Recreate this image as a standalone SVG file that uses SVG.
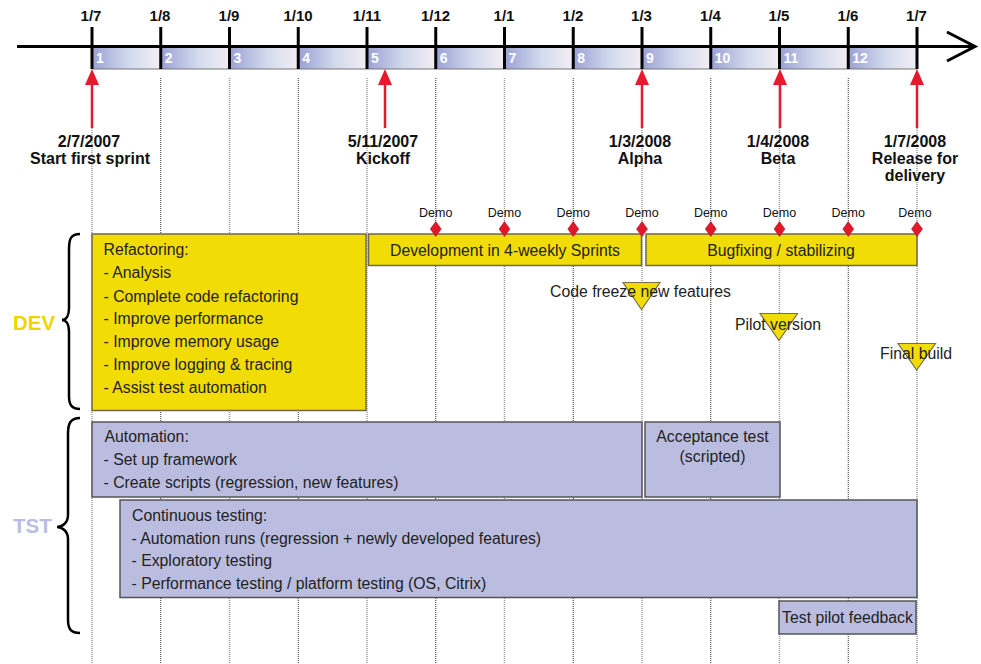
<svg xmlns="http://www.w3.org/2000/svg" width="981" height="664" viewBox="0 0 981 664">
<style>
.lbl{font-family:"Liberation Sans",Arial,sans-serif;font-weight:bold;font-size:15px;fill:#111;text-anchor:middle}
.ms{font-family:"Liberation Sans",Arial,sans-serif;font-weight:bold;font-size:16px;fill:#111;text-anchor:middle}
.num{font-family:"Liberation Sans",Arial,sans-serif;font-weight:bold;font-size:14px;fill:#fff}
.t{font-family:"Liberation Sans",Arial,sans-serif;font-size:15.8px;fill:#222}
.tc{font-family:"Liberation Sans",Arial,sans-serif;font-size:15.8px;fill:#222;text-anchor:middle}
.demo{font-family:"Liberation Sans",Arial,sans-serif;font-size:12.5px;fill:#111;text-anchor:middle}
.gA{stroke:#999;stroke-width:1.5;stroke-dasharray:1 1;fill:none}
.gB{stroke:#333;stroke-width:1;stroke-dasharray:1 1;fill:none}
.yel{fill:#f2dc06;stroke:#6e6a48;stroke-width:1.5}
.lav{fill:#bbbde0;stroke:#555;stroke-width:1.5}
.tick{stroke:#000;stroke-width:3}
.red{stroke:#e8192c;stroke-width:2.5}
.dia{fill:#e0182a;stroke:#a01020;stroke-width:0.5}
.tri{fill:#f2dc06;stroke:#77704a;stroke-width:1.2}
.brace{fill:none;stroke:#000;stroke-width:2.5}
</style>
<defs>
<linearGradient id="seg" x1="0" y1="0" x2="1" y2="0">
<stop offset="0" stop-color="#9aa1d5"/>
<stop offset="0.55" stop-color="#d3dbee"/>
<stop offset="1" stop-color="#f3edf3"/>
</linearGradient>
<path id="rarrow" d="M0,0 L-7,16 L7,16 Z" fill="#e8192c"/>
<path id="diam" d="M0,-7.5 L5.5,0 L0,7.5 L-5.5,0 Z"/>
</defs>
<rect width="981" height="664" fill="#fff"/>

<g id="grid">
<line class="gA" x1="92" y1="72" x2="92" y2="664"/>
<line class="gB" x1="160.75" y1="78" x2="160.75" y2="664"/>
<line class="gA" x1="229.5" y1="78" x2="229.5" y2="664"/>
<line class="gB" x1="298.25" y1="78" x2="298.25" y2="664"/>
<line class="gA" x1="367" y1="78" x2="367" y2="664"/>
<line class="gB" x1="435.75" y1="78" x2="435.75" y2="664"/>
<line class="gA" x1="504.5" y1="78" x2="504.5" y2="664"/>
<line class="gB" x1="573.25" y1="78" x2="573.25" y2="664"/>
<line class="gA" x1="642" y1="78" x2="642" y2="664"/>
<line class="gB" x1="710.75" y1="78" x2="710.75" y2="664"/>
<line class="gA" x1="779.5" y1="78" x2="779.5" y2="664"/>
<line class="gB" x1="848.25" y1="78" x2="848.25" y2="664"/>
<line class="gA" x1="917" y1="78" x2="917" y2="664"/>
</g>

<g id="timeline">
<rect x="92" y="47" width="68.75" height="22" fill="url(#seg)"/>
<rect x="160.75" y="47" width="68.75" height="22" fill="url(#seg)"/>
<rect x="229.5" y="47" width="68.75" height="22" fill="url(#seg)"/>
<rect x="298.25" y="47" width="68.75" height="22" fill="url(#seg)"/>
<rect x="367" y="47" width="68.75" height="22" fill="url(#seg)"/>
<rect x="435.75" y="47" width="68.75" height="22" fill="url(#seg)"/>
<rect x="504.5" y="47" width="68.75" height="22" fill="url(#seg)"/>
<rect x="573.25" y="47" width="68.75" height="22" fill="url(#seg)"/>
<rect x="642" y="47" width="68.75" height="22" fill="url(#seg)"/>
<rect x="710.75" y="47" width="68.75" height="22" fill="url(#seg)"/>
<rect x="779.5" y="47" width="68.75" height="22" fill="url(#seg)"/>
<rect x="848.25" y="47" width="68.75" height="22" fill="url(#seg)"/>
<line x1="92" y1="69" x2="917" y2="69" stroke="#777" stroke-width="1"/>
<line x1="17" y1="46.5" x2="974" y2="46.5" stroke="#000" stroke-width="3"/>
<polyline points="947,32 975,46.5 947,61" fill="none" stroke="#000" stroke-width="3"/>
<g class="tick">
<line x1="92" y1="27" x2="92" y2="69"/>
<line x1="160.75" y1="27" x2="160.75" y2="69"/>
<line x1="229.5" y1="27" x2="229.5" y2="69"/>
<line x1="298.25" y1="27" x2="298.25" y2="69"/>
<line x1="367" y1="27" x2="367" y2="69"/>
<line x1="435.75" y1="27" x2="435.75" y2="69"/>
<line x1="504.5" y1="27" x2="504.5" y2="69"/>
<line x1="573.25" y1="27" x2="573.25" y2="69"/>
<line x1="642" y1="27" x2="642" y2="69"/>
<line x1="710.75" y1="27" x2="710.75" y2="69"/>
<line x1="779.5" y1="27" x2="779.5" y2="69"/>
<line x1="848.25" y1="27" x2="848.25" y2="69"/>
<line x1="917" y1="27" x2="917" y2="69"/>
</g>
<text class="lbl" x="91" y="21">1/7</text>
<text class="lbl" x="160" y="21">1/8</text>
<text class="lbl" x="229" y="21">1/9</text>
<text class="lbl" x="298" y="21">1/10</text>
<text class="lbl" x="367" y="21">1/11</text>
<text class="lbl" x="435.5" y="21">1/12</text>
<text class="lbl" x="504" y="21">1/1</text>
<text class="lbl" x="573" y="21">1/2</text>
<text class="lbl" x="641.5" y="21">1/3</text>
<text class="lbl" x="710.5" y="21">1/4</text>
<text class="lbl" x="779" y="21">1/5</text>
<text class="lbl" x="848" y="21">1/6</text>
<text class="lbl" x="916.5" y="21">1/7</text>
<text class="num" x="96" y="63">1</text>
<text class="num" x="164.75" y="63">2</text>
<text class="num" x="233.5" y="63">3</text>
<text class="num" x="302.25" y="63">4</text>
<text class="num" x="371" y="63">5</text>
<text class="num" x="439.75" y="63">6</text>
<text class="num" x="508.5" y="63">7</text>
<text class="num" x="577.25" y="63">8</text>
<text class="num" x="646" y="63">9</text>
<text class="num" x="714.75" y="63">10</text>
<text class="num" x="783.5" y="63">11</text>
<text class="num" x="852.25" y="63">12</text>
</g>

<g id="milestones">
<use href="#rarrow" x="92" y="69"/><line class="red" x1="92" y1="84" x2="92" y2="128"/>
<use href="#rarrow" x="385" y="69"/><line class="red" x1="385" y1="84" x2="385" y2="128"/>
<use href="#rarrow" x="642" y="69"/><line class="red" x1="642" y1="84" x2="642" y2="128"/>
<use href="#rarrow" x="780" y="69"/><line class="red" x1="780" y1="84" x2="780" y2="128"/>
<use href="#rarrow" x="917" y="69"/><line class="red" x1="917" y1="84" x2="917" y2="128"/>
<text class="ms" x="89" y="147">2/7/2007</text>
<text class="ms" x="90" y="164">Start first sprint</text>
<text class="ms" x="383" y="147">5/11/2007</text>
<text class="ms" x="383" y="164">Kickoff</text>
<text class="ms" x="640" y="147">1/3/2008</text>
<text class="ms" x="640" y="164">Alpha</text>
<text class="ms" x="778" y="147">1/4/2008</text>
<text class="ms" x="778" y="164">Beta</text>
<text class="ms" x="915" y="147">1/7/2008</text>
<text class="ms" x="915" y="164">Release for</text>
<text class="ms" x="915" y="181">delivery</text>
</g>

<g id="dev-brace">
<path class="brace" d="M80,234 C70,234 69,240 69,250 L69,308 C69,316 66,320 62,320 C66,320 69,324 69,332 L69,396 C69,404 71,409 80,409"/>
<text x="13" y="330" font-family="Liberation Sans, Arial, sans-serif" font-weight="bold" font-size="20.5" fill="#f0d400">DEV</text>
</g>
<g id="tst-brace">
<path class="brace" d="M80,418 C70,418 68,424 68,434 L68,515 C68,523 62,527 57,527 C62,527 68,531 68,539 L68,620 C68,629 71,633 80,633"/>
<text x="13" y="533" font-family="Liberation Sans, Arial, sans-serif" font-weight="bold" font-size="20.5" fill="#b9bde1">TST</text>
</g>

<g id="refactoring">
<rect class="yel" x="92" y="234" width="274" height="176.5"/>
<text class="t" x="103.5" y="255">Refactoring:</text>
<text class="t" x="103.5" y="278">- Analysis</text>
<text class="t" x="103.5" y="301.5">- Complete code refactoring</text>
<text class="t" x="103.5" y="324">- Improve performance</text>
<text class="t" x="103.5" y="347">- Improve memory usage</text>
<text class="t" x="103.5" y="370">- Improve logging &amp; tracing</text>
<text class="t" x="103.5" y="393">- Assist test automation</text>
</g>

<g id="development">
<rect class="yel" x="368.5" y="234" width="273" height="31.5"/>
<text class="tc" x="505" y="255.5">Development in 4-weekly Sprints</text>
</g>
<g id="bugfixing">
<rect class="yel" x="646" y="234" width="271" height="31.5"/>
<text class="tc" x="781" y="255.5">Bugfixing / stabilizing</text>
</g>

<g id="demos">
<use href="#diam" class="dia" x="435.75" y="229"/>
<use href="#diam" class="dia" x="504.5" y="229"/>
<use href="#diam" class="dia" x="573.25" y="229"/>
<use href="#diam" class="dia" x="642" y="229"/>
<use href="#diam" class="dia" x="710.75" y="229"/>
<use href="#diam" class="dia" x="779.5" y="229"/>
<use href="#diam" class="dia" x="848.25" y="229"/>
<use href="#diam" class="dia" x="917" y="229"/>
<text class="demo" x="435.75" y="217">Demo</text>
<text class="demo" x="504.5" y="217">Demo</text>
<text class="demo" x="573.25" y="217">Demo</text>
<text class="demo" x="642" y="217">Demo</text>
<text class="demo" x="710.75" y="217">Demo</text>
<text class="demo" x="779.5" y="217">Demo</text>
<text class="demo" x="848.25" y="217">Demo</text>
<text class="demo" x="915" y="217">Demo</text>
</g>

<g id="code-freeze">
<path class="tri" d="M623,282.5 L660,282.5 L641.5,309.5 Z"/>
<text class="t" x="550" y="296.5">Code freeze new features</text>
</g>
<g id="pilot-version">
<path class="tri" d="M760,313.5 L797.5,313.5 L779,340.5 Z"/>
<text class="t" x="735" y="330">Pilot version</text>
</g>
<g id="final-build">
<path class="tri" d="M898,343.5 L935.5,343.5 L916.7,370 Z"/>
<text class="t" x="880" y="359">Final build</text>
</g>

<g id="automation">
<rect class="lav" x="92" y="422" width="550" height="75"/>
<text class="t" x="104.5" y="442">Automation:</text>
<text class="t" x="103.5" y="465">- Set up framework</text>
<text class="t" x="103.5" y="488">- Create scripts (regression, new features)</text>
</g>
<g id="acceptance">
<rect class="lav" x="645" y="422" width="135" height="75"/>
<text class="tc" x="712.5" y="442">Acceptance test</text>
<text class="tc" x="712.5" y="462">(scripted)</text>
</g>
<g id="continuous">
<rect class="lav" x="120" y="500" width="797" height="97.5"/>
<text class="t" x="132" y="521">Continuous testing:</text>
<text class="t" x="131.5" y="543.5">- Automation runs (regression + newly developed features)</text>
<text class="t" x="131.5" y="566">- Exploratory testing</text>
<text class="t" x="131.5" y="589">- Performance testing / platform testing (OS, Citrix)</text>
</g>
<g id="pilot-feedback">
<rect class="lav" x="779" y="601" width="137" height="33"/>
<text class="tc" x="847.5" y="622.5">Test pilot feedback</text>
</g>
</svg>
